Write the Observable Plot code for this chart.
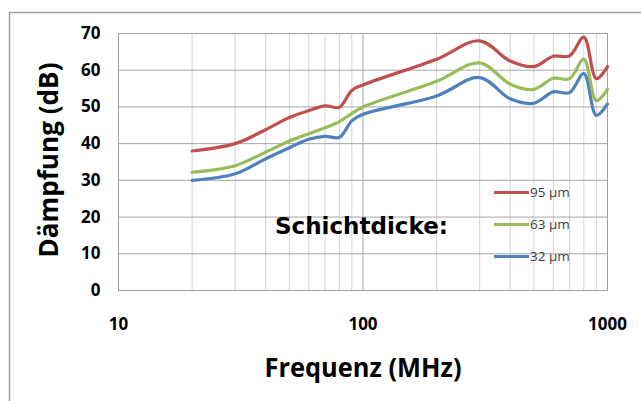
<!DOCTYPE html>
<html><head><meta charset="utf-8">
<script src="https://cdn.jsdelivr.net/npm/d3@7"></script>
<script src="https://cdn.jsdelivr.net/npm/@observablehq/plot@0.6"></script>
<style>body{margin:0;background:#fff;overflow:hidden}</style>
</head><body><div id="chart"></div>
<script>
const freqs = [20, 30, 40, 50, 60, 70, 80, 90, 100, 200, 300, 400, 500, 600, 700, 800, 900, 1000];
const d95 = [38, 40, 43.8, 47.1, 49, 50.3, 49.9, 54.5, 56, 63, 68, 62.5, 61, 63.8, 63.9, 69, 57.7, 61];
const d63 = [32.2, 34, 37.7, 40.7, 42.7, 44.3, 46, 48.2, 50, 57, 62, 56.2, 54.8, 57.8, 57.7, 63, 51.7, 54.8];
const d32 = [30, 31.8, 35.9, 38.9, 41.2, 42, 41.7, 46.2, 48, 53, 58, 52.2, 51, 54.1, 53.9, 59.1, 47.7, 50.8];
const seriesNames = ["95 µm", "63 µm", "32 µm"];
const seriesColors = ["#C0504D", "#9BBB59", "#4F81BD"];
const yTicks = [0, 10, 20, 30, 40, 50, 60, 70];
const xTicks = [10, 100, 1000];
const minorX = [20, 30, 40, 50, 60, 70, 80, 90, 200, 300, 400, 500, 600, 700, 800, 900];
const majorX = [100];
const yTitle = "Dämpfung (dB)";
const xTitle = "Frequenz (MHz)";
const legendTitle = "Schichtdicke:";

const seriesValues = [d95, d63, d32];
const tidy = [];
[2, 1, 0].forEach(i => freqs.forEach((f, j) => tidy.push({f, v: seriesValues[i][j], s: seriesNames[i]})));

const plot = Plot.plot({
  width: 641, height: 401,
  marginLeft: 118, marginRight: 34, marginTop: 33, marginBottom: 111,
  style: {background: "transparent", overflow: "visible"},
  x: {type: "log", domain: [10, 1000]},
  y: {domain: [0, 70]},
  color: {domain: seriesNames, range: seriesColors},
  marks: [
    Plot.ruleX(minorX, {stroke: "#d4d4d4", strokeWidth: 1}),
    Plot.ruleX(majorX, {stroke: "#a6a6a6", strokeWidth: 1}),
    Plot.ruleY(yTicks.slice(1, -1), {stroke: "#a6a6a6", strokeWidth: 1}),
    Plot.frame({stroke: "#a0a0a0", strokeWidth: 1}),
    Plot.axisY({ticks: yTicks, tickSize: 0, tickPadding: 18, label: null,
      fontSize: 17, fontWeight: "bold", fontFamily: "Open Sans", fill: "#000"}),
    Plot.axisX({ticks: xTicks, tickSize: 0, tickPadding: 27, label: null, tickFormat: d => String(d),
      fontSize: 17, fontWeight: "bold", fontFamily: "Open Sans", fill: "#000"}),
    Plot.line(tidy, {x: "f", y: "v", z: "s", stroke: "s", curve: "catmull-rom", strokeWidth: 3.2, strokeLinecap: "round"})
  ]
});
document.getElementById("chart").appendChild(plot);

const svg = d3.select(plot);
svg.insert("rect", ":first-child")
  .attr("x", 9.5).attr("y", 12.5).attr("width", 700).attr("height", 500)
  .attr("fill", "#fff").attr("stroke", "#a0a0a0").attr("stroke-width", 1.5);

svg.append("text")
  .attr("transform", "translate(58,160) rotate(-90)")
  .attr("text-anchor", "middle")
  .attr("font-family", "Open Sans").attr("font-weight", "bold").attr("font-size", 26)
  .attr("textLength", 195).attr("lengthAdjust", "spacingAndGlyphs")
  .attr("fill", "#000").text(yTitle);

svg.append("text")
  .attr("x", 363).attr("y", 377)
  .attr("text-anchor", "middle")
  .attr("font-family", "Open Sans").attr("font-weight", "bold").attr("font-size", 27)
  .attr("textLength", 197).attr("lengthAdjust", "spacingAndGlyphs")
  .attr("fill", "#000").text(xTitle);

svg.append("text")
  .attr("x", 275).attr("y", 233.5)
  .attr("text-anchor", "start")
  .attr("font-family", "DejaVu Sans").attr("font-weight", "bold").attr("font-size", 23)
  .attr("textLength", 173).attr("lengthAdjust", "spacingAndGlyphs")
  .attr("fill", "#000").text(legendTitle);

const legendY = [192.5, 224.5, 256.5];
seriesNames.forEach((name, i) => {
  svg.append("line").attr("x1", 494).attr("x2", 529).attr("y1", legendY[i]).attr("y2", legendY[i])
    .attr("stroke", seriesColors[i]).attr("stroke-width", 3);
  svg.append("text").attr("x", 530).attr("y", legendY[i]).attr("dy", "0.35em")
    .attr("text-anchor", "start")
    .attr("font-family", "Open Sans").attr("font-size", 13.5).attr("fill", "#404040").text(name);
});
</script>
</body></html>
